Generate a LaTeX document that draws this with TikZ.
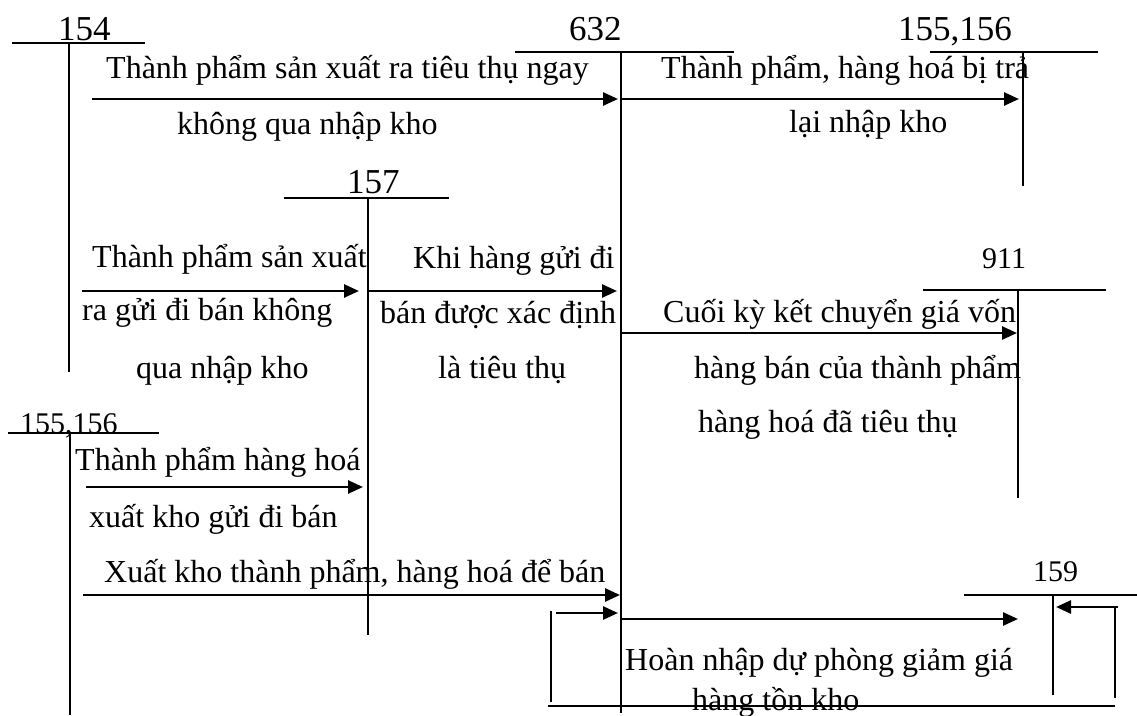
\documentclass[tikz,border=0pt]{standalone}
\usepackage{fontspec}
\setmainfont{Liberation Serif}
\usetikzlibrary{arrows.meta}
\begin{document}
\begin{tikzpicture}[x=1pt,y=-1pt,
  acct/.style={line width=1.8pt},
  flow/.style={line width=2.6pt,-{Triangle[length=15pt,width=13pt]}},
  lbl/.style={anchor=base west,inner sep=0pt,font=\fontsize{32}{36}\selectfont},
  num/.style={anchor=base west,inner sep=0pt,font=\fontsize{35}{40}\selectfont},
  nums/.style={anchor=base west,inner sep=0pt,font=\fontsize{30}{34}\selectfont}]
\useasboundingbox (0,0) rectangle (1137,715);

% ---- T-accounts ----
% 154
\coordinate (h154l) at (12,43); \coordinate (h154r) at (145,43);
\coordinate (v154t) at (69,43); \coordinate (v154b) at (69,372);
\node[num] (n154) at (58,40) {154};
\draw[acct] (h154l) -- (h154r); \draw[acct] (v154t) -- (v154b);
% 632
\coordinate (h632l) at (515,52); \coordinate (h632r) at (734,52);
\coordinate (v632t) at (621,52); \coordinate (v632b) at (621,713);
\node[num] (n632) at (569,40) {632};
\draw[acct] (h632l) -- (h632r); \draw[acct] (v632t) -- (v632b);
% 155,156 top
\coordinate (hTl) at (930,52); \coordinate (hTr) at (1098,52);
\coordinate (vTt) at (1023,52); \coordinate (vTb) at (1023,186);
\node[num] (nT) at (898,40) {155,156};
\draw[acct] (hTl) -- (hTr); \draw[acct] (vTt) -- (vTb);
% 157
\coordinate (h157l) at (284,198); \coordinate (h157r) at (449,198);
\coordinate (v157t) at (368,198); \coordinate (v157b) at (368,635);
\node[num] (n157) at (347,193) {157};
\draw[acct] (h157l) -- (h157r); \draw[acct] (v157t) -- (v157b);
% 911
\coordinate (h911l) at (923,290); \coordinate (h911r) at (1106,290);
\coordinate (v911t) at (1018,290); \coordinate (v911b) at (1018,498);
\node[nums] (n911) at (982,268) {911};
\draw[acct] (h911l) -- (h911r); \draw[acct] (v911t) -- (v911b);
% 155,156 bottom
\coordinate (hBl) at (8,433); \coordinate (hBr) at (159,433);
\coordinate (vBt) at (70,433); \coordinate (vBb) at (70,715);
\node[nums] (nB) at (20,433) {155,156};
\draw[acct] (hBl) -- (hBr); \draw[acct] (vBt) -- (vBb);
% 159
\coordinate (h159l) at (964,595); \coordinate (h159r) at (1137,595);
\coordinate (v159t) at (1053,595); \coordinate (v159b) at (1053,695);
\node[nums] (n159) at (1033,581) {159};
\draw[acct] (h159l) -- (h159r); \draw[acct] (v159t) -- (v159b);

% ---- flows ----
\coordinate (a1s) at (92,99);   \coordinate (a1e) at (618,99);
\coordinate (a2s) at (621,99);  \coordinate (a2e) at (1019,99);
\coordinate (b1s) at (82,291);  \coordinate (b1e) at (359,291);
\coordinate (b2s) at (368,291); \coordinate (b2e) at (617,291);
\coordinate (cs) at (621,333);  \coordinate (ce) at (1017,333);
\coordinate (d1s) at (86,487);  \coordinate (d1e) at (363,487);
\coordinate (d2s) at (83,595);  \coordinate (d2e) at (620,595);
\coordinate (es) at (556,613);  \coordinate (ee) at (618,613);
\coordinate (fs) at (621,619);  \coordinate (fe) at (1018,619);
\coordinate (bkt) at (551,611); \coordinate (bkb) at (551,702);
\coordinate (bll) at (548,706); \coordinate (blr) at (1115,706);
\coordinate (rvb) at (1115,698); \coordinate (rvt) at (1115,606);
\coordinate (gs) at (1118,607); \coordinate (ge) at (1056,607);

\draw[flow] (a1s) -- (a1e);
\draw[flow] (a2s) -- (a2e);
\draw[flow] (b1s) -- (b1e);
\draw[flow] (b2s) -- (b2e);
\draw[flow] (cs) -- (ce);
\draw[flow] (d1s) -- (d1e);
\draw[flow] (d2s) -- (d2e);
\draw[flow] (es) -- (ee);
\draw[flow] (fs) -- (fe);
\draw[flow] (gs) -- (ge);
\draw[acct] (bkt) -- (bkb);
\draw[acct] (bll) -- (blr);
\draw[acct] (rvt) -- (rvb);

% ---- labels ----
\node[lbl] (ta1a) at (106,78) {Thành phẩm sản xuất ra tiêu thụ ngay};
\node[lbl] (ta1b) at (177,134) {không qua nhập kho};
\node[lbl] (ta2a) at (661,78) {Thành phẩm, hàng hoá bị trả};
\node[lbl] (ta2b) at (789,132) {lại nhập kho};
\node[lbl] (tb1a) at (92,267) {Thành phẩm sản xuất};
\node[lbl] (tb1b) at (82,320) {ra gửi đi bán không};
\node[lbl] (tb1c) at (136,378) {qua nhập kho};
\node[lbl] (tb2a) at (413,268) {Khi hàng gửi đi};
\node[lbl] (tb2b) at (380,323) {bán được xác định};
\node[lbl] (tb2c) at (438,378) {là tiêu thụ};
\node[lbl] (tca) at (663,322) {Cuối kỳ kết chuyển giá vốn};
\node[lbl] (tcb) at (694,378) {hàng bán của thành phẩm};
\node[lbl] (tcc) at (698,432) {hàng hoá đã tiêu thụ};
\node[lbl] (td1a) at (75,470) {Thành phẩm hàng hoá};
\node[lbl] (td1b) at (89,527) {xuất kho gửi đi bán};
\node[lbl] (td2) at (104,582) {Xuất kho thành phẩm, hàng hoá để bán};
\node[lbl] (tfa) at (625,670) {Hoàn nhập dự phòng giảm giá};
\node[lbl] (tfb) at (692,710) {hàng tồn kho};
\end{tikzpicture}
\end{document}
